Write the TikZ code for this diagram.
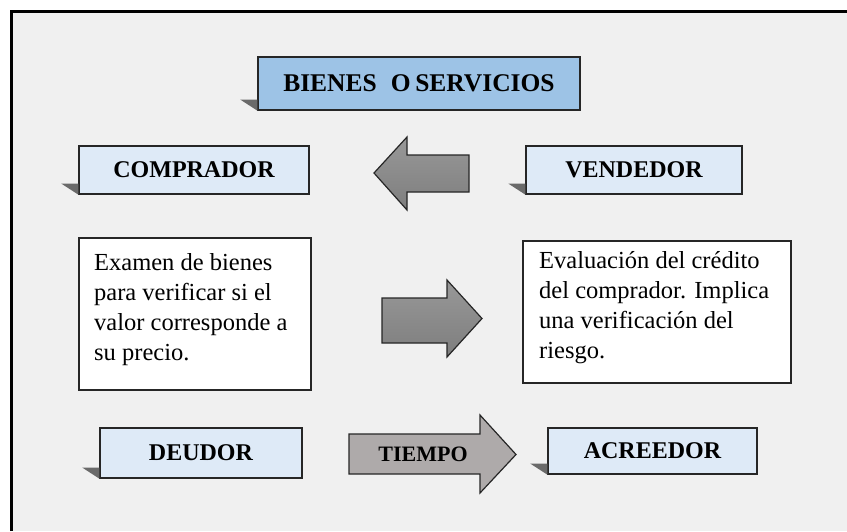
\documentclass[tikz,border=0pt]{standalone}
\usepackage{fontspec}
\setmainfont{Liberation Serif}
\usetikzlibrary{calc}
\definecolor{bg}{HTML}{F0F0F0}
\definecolor{bluedark}{HTML}{9DC3E6}
\definecolor{bluelight}{HTML}{DEEAF7}
\definecolor{arrowtop}{HTML}{989898}
\definecolor{arrowbot}{HTML}{7E7E7E}
\definecolor{timegray}{HTML}{AEAAAA}
\definecolor{shadowgray}{HTML}{6A6A6A}
\begin{document}
\begin{tikzpicture}[x=1pt,y=-1pt,
  lbl/.style={draw=black!85, line width=1.3pt, inner sep=0pt, fill=bluelight,
    font=\fontsize{24}{28}\selectfont\bfseries},
  txtbox/.style={draw=black!85, line width=1.2pt, fill=white, inner sep=0pt},
  body/.style={font=\fontsize{24.5}{30}\selectfont, align=left, inner sep=0pt, anchor=north west},
  shadowtri/.style={fill=shadowgray},
  blockarrow/.style={draw=black!85, line width=1.2pt, top color=arrowtop, bottom color=arrowbot},
  timearrow/.style={draw=black!85, line width=1.2pt, fill=timegray}
]
\useasboundingbox (0,0) rectangle (847,531);
% background and frame
\fill[white] (0,0) rectangle (847,531);
\fill[bg] (11.5,11.5) rectangle (847,531);
\draw[line width=3.5pt, black] (11.5,531) -- (11.5,11.5) -- (847,11.5);

% label boxes
\node[lbl, fill=bluedark, minimum width=322pt, minimum height=53pt,
  font=\fontsize{25.5}{30}\selectfont\bfseries] (bienes) at (419,83.5) {BIENES\hspace{0.55em}O\hspace{0.18em}SERVICIOS};
\node[lbl, minimum width=230pt, minimum height=48pt] (comprador) at (194,170) {COMPRADOR};
\node[lbl, minimum width=216pt, minimum height=48pt] (vendedor) at (634,170) {VENDEDOR};
\node[lbl, minimum width=202pt, minimum height=50pt] (deudor) at (201,453) {DEUDOR};
\node[lbl, minimum width=209pt, minimum height=46pt] (acreedor) at (652.5,451) {ACREEDOR};

% shadows
\foreach \b in {bienes,comprador,vendedor,deudor,acreedor}{
  \fill[shadowtri] ($(\b.south west)+(-17,-11)$) -- ($(\b.south west)+(0,-11)$) -- (\b.south west) -- cycle;
}

% text boxes
\node[txtbox, minimum width=232pt, minimum height=152pt] (examen) at (195,314) {};
\node[body] (examentxt) at (94,253.3) {Examen de bienes\\para verificar si el\\valor corresponde a\\su precio.};
\node[txtbox, minimum width=268pt, minimum height=142pt] (evaluacion) at (657,312) {};
\node[body] (evaluaciontxt) at (539,251.3) {Evaluación del crédito\\del comprador. Implica\\una verificación del\\riesgo.};

% block arrows
\draw[blockarrow] (374,173) -- (407,137) -- (407,155) -- (469,155) -- (469,192) -- (407,192) -- (407,210) -- cycle;
\draw[blockarrow] (382,298) -- (447,298) -- (447,280) -- (482,318.5) -- (447,357) -- (447,343) -- (382,343) -- cycle;
\draw[timearrow] (349,434) -- (480,434) -- (480,415) -- (516,454.5) -- (480,493) -- (480,474) -- (349,474) -- cycle;
\node[font=\fontsize{22}{26}\selectfont\bfseries, inner sep=0pt] (tiempo) at (423,454.5) {TIEMPO};
\end{tikzpicture}
\end{document}
